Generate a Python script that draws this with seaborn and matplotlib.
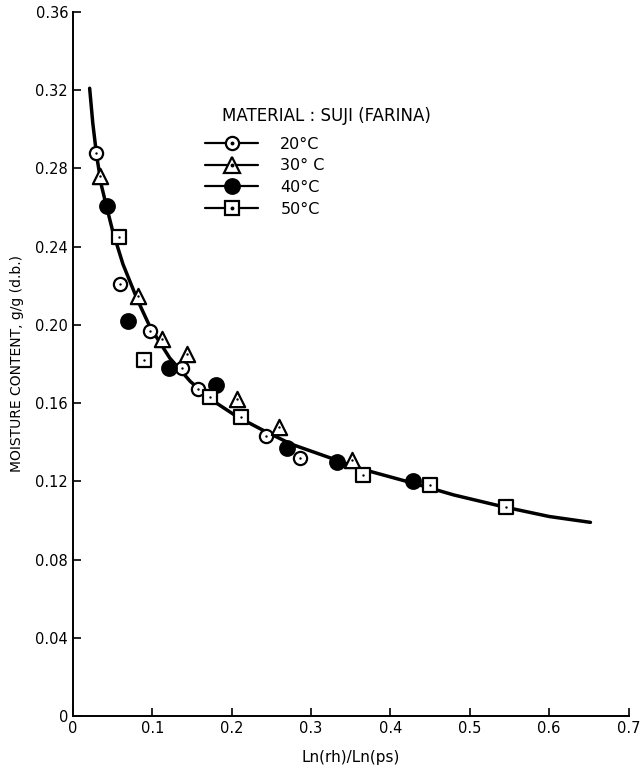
import matplotlib
matplotlib.use("Agg")
import matplotlib.pyplot as plt
from matplotlib.lines import Line2D
import seaborn as sns
import pandas as pd

# ---- data ----
x20 = [0.029, 0.059, 0.097, 0.137, 0.158, 0.243, 0.286]
y20 = [0.288, 0.221, 0.197, 0.178, 0.167, 0.143, 0.132]
x30 = [0.034, 0.082, 0.112, 0.144, 0.207, 0.259, 0.351]
y30 = [0.276, 0.215, 0.193, 0.185, 0.162, 0.148, 0.131]
x40 = [0.043, 0.069, 0.121, 0.180, 0.270, 0.333, 0.429]
y40 = [0.261, 0.202, 0.178, 0.169, 0.137, 0.130, 0.120]
x50 = [0.058, 0.090, 0.173, 0.212, 0.366, 0.450, 0.545]
y50 = [0.245, 0.182, 0.163, 0.153, 0.123, 0.118, 0.107]

curve_x = [0.021, 0.025, 0.030, 0.036, 0.042, 0.050, 0.063, 0.081, 0.097, 0.122,
           0.148, 0.177, 0.207, 0.240, 0.275, 0.324, 0.366, 0.429, 0.480, 0.542,
           0.600, 0.652]
curve_y = [0.321, 0.303, 0.286, 0.271, 0.261, 0.248, 0.231, 0.213, 0.199, 0.183,
           0.171, 0.161, 0.153, 0.146, 0.139, 0.132, 0.126, 0.119, 0.113, 0.107,
           0.102, 0.099]

series_labels = ["20°C", "30° C", "40°C", "50°C"]
legend_title = "MATERIAL : SUJI (FARINA)"
x_ticks = [0, 0.1, 0.2, 0.3, 0.4, 0.5, 0.6, 0.7]
x_ticklabels = ["0", "0.1", "0.2", "0.3", "0.4", "0.5", "0.6", "0.7"]
y_ticks = [0, 0.04, 0.08, 0.12, 0.16, 0.20, 0.24, 0.28, 0.32, 0.36]
y_ticklabels = ["0", "0.04", "0.08", "0.12", "0.16", "0.20", "0.24", "0.28", "0.32", "0.36"]

sns.set_style("ticks")
plt.rcParams['font.family'] = ['DejaVu Sans']
plt.rcParams['text.color'] = 'black'
plt.rcParams['axes.labelcolor'] = 'black'

fig = plt.figure(figsize=(6.43, 7.74), dpi=100)
ax = fig.add_axes([0.1135, 0.075, 0.864, 0.9095])

curve = pd.DataFrame({"x": curve_x, "y": curve_y})
sns.lineplot(data=curve, x="x", y="y", ax=ax, color="black", lw=2.5, sort=True, zorder=2)

styles = [
    (x20, y20, "o", "white", True, 9.5),
    (x30, y30, "^", "white", True, 11),
    (x40, y40, "o", "black", False, 10.5),
    (x50, y50, "s", "white", True, 9.5),
]
handles = []
for (xs, ys, m, fc, dot, ms) in styles:
    df = pd.DataFrame({"x": xs, "y": ys})
    sns.scatterplot(data=df, x="x", y="y", ax=ax, marker=m, s=ms ** 2,
                    facecolor=fc, edgecolor="black", linewidth=1.6, zorder=3)
    big = Line2D([], [], color="black", lw=1.6, marker=m, markersize=ms,
                 markerfacecolor=fc, markeredgecolor="black", markeredgewidth=1.6)
    if dot:
        sns.scatterplot(data=df, x="x", y="y", ax=ax, marker="o", s=3,
                        color="black", linewidth=0, zorder=4)
        small = Line2D([], [], ls="none", marker="o", markersize=1.8, color="black")
        handles.append((big, small))
    else:
        handles.append(big)

leg = ax.legend(handles, series_labels, loc="upper left",
                bbox_to_anchor=(0.238, 0.823), frameon=False, fontsize=11.5,
                handlelength=3.3, handletextpad=1.4, labelspacing=0.42,
                borderpad=0, borderaxespad=0, labelcolor="black")
ax.text(0.268, 0.852, legend_title, transform=ax.transAxes, fontsize=12,
        ha="left", va="center", color="black")

ax.set_xlim(0, 0.7)
ax.set_ylim(0, 0.36)
ax.set_xticks(x_ticks)
ax.set_xticklabels(x_ticklabels)
ax.set_yticks(y_ticks)
ax.set_yticklabels(y_ticklabels)
ax.tick_params(direction="in", length=6, width=1.2, labelsize=10.5, colors="black")
ax.set_xlabel("Ln(rh)/Ln(ps)", fontsize=11, labelpad=10)
ax.set_ylabel("MOISTURE CONTENT, g/g (d.b.)", fontsize=10, labelpad=8)
sns.despine(ax=ax)
for s in ["left", "bottom"]:
    ax.spines[s].set_linewidth(1.4)
    ax.spines[s].set_color("black")

fig.savefig("out.png", dpi=100)
